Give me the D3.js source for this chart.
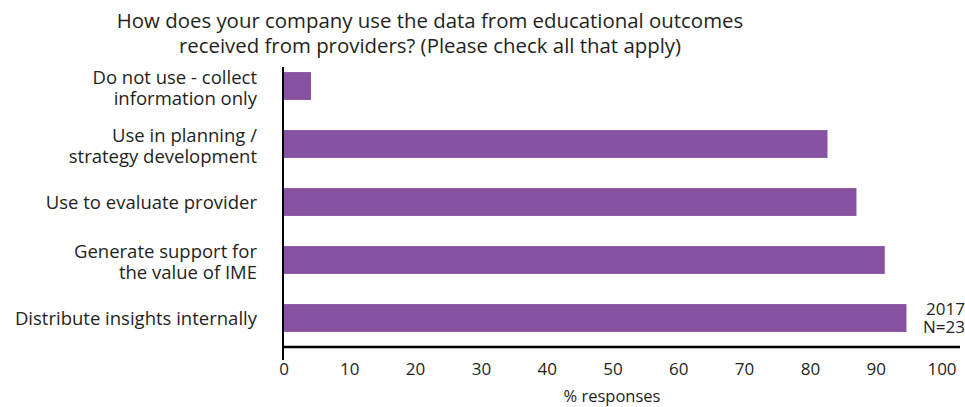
<!DOCTYPE html>
<html><head><meta charset="utf-8">
<script src="https://cdn.jsdelivr.net/npm/d3@7"></script>
<style>body{margin:0;background:#fff}svg{display:block}text{font-family:"Open Sans",sans-serif;fill:#231f20}</style>
</head><body><svg id="c" width="965" height="407"></svg>
<script>
const categories = [
  ["Do not use - collect","information only"],
  ["Use in planning /","strategy development"],
  ["Use to evaluate provider"],
  ["Generate support for","the value of IME"],
  ["Distribute insights internally"]
];
const values = [4.1, 82.6, 87.0, 91.3, 94.6];
const xTicks = [0,10,20,30,40,50,60,70,80,90,100];
const titleLines = ["How does your company use the data from educational outcomes","received from providers? (Please check all that apply)"];
const note = ["2017","N=23"];

const svg = d3.select("#c");
const x = d3.scaleLinear().domain([0,100]).range([284,942]);
const y = d3.scaleBand().domain(d3.range(categories.length)).range([57,347]).paddingInner(0.52).paddingOuter(0.26);

const title = svg.append("text").attr("text-anchor","middle").style("font-size","20.4px");
title.selectAll("tspan").data(titleLines).join("tspan")
  .attr("x",430).attr("y",(d,i)=>28+i*25).text(d=>d);

svg.selectAll("rect.bar").data(values).join("rect").attr("class","bar")
  .attr("x",x(0)).attr("y",(d,i)=>y(i)).attr("width",d=>x(d)-x(0)).attr("height",y.bandwidth())
  .attr("fill","#8652a1");

svg.selectAll("text.lab").data(categories).join("text").attr("class","lab")
  .attr("text-anchor","end").style("font-size","18.5px")
  .each(function(lines,i){
    const c = y(i)+y.bandwidth()/2;
    const n = lines.length;
    d3.select(this).selectAll("tspan").data(lines).join("tspan")
      .attr("x",257).attr("y",(d,j)=>c+(j-(n-1)/2)*21+(n>1?8.5:7)).text(d=>d);
  });

// axes
svg.append("line").attr("x1",x(0)).attr("x2",960).attr("y1",347).attr("y2",347).attr("stroke","#000").attr("stroke-width",2.5);
svg.append("line").attr("x1",x(0)-1).attr("x2",x(0)-1).attr("y1",67).attr("y2",360).attr("stroke","#000").attr("stroke-width",2);

svg.selectAll("text.tick").data(xTicks).join("text").attr("class","tick")
  .attr("x",d=>x(d)).attr("y",375).attr("text-anchor","middle").style("font-size","17px").text(d=>d);

svg.append("text").attr("x",612).attr("y",402).attr("text-anchor","middle").style("font-size","16.5px").text("% responses");

const nt = svg.append("text").attr("text-anchor","end").style("font-size","17px");
nt.selectAll("tspan").data(note).join("tspan")
  .attr("x",965).attr("y",(d,i)=>315+i*18).text(d=>d);
</script></body></html>
